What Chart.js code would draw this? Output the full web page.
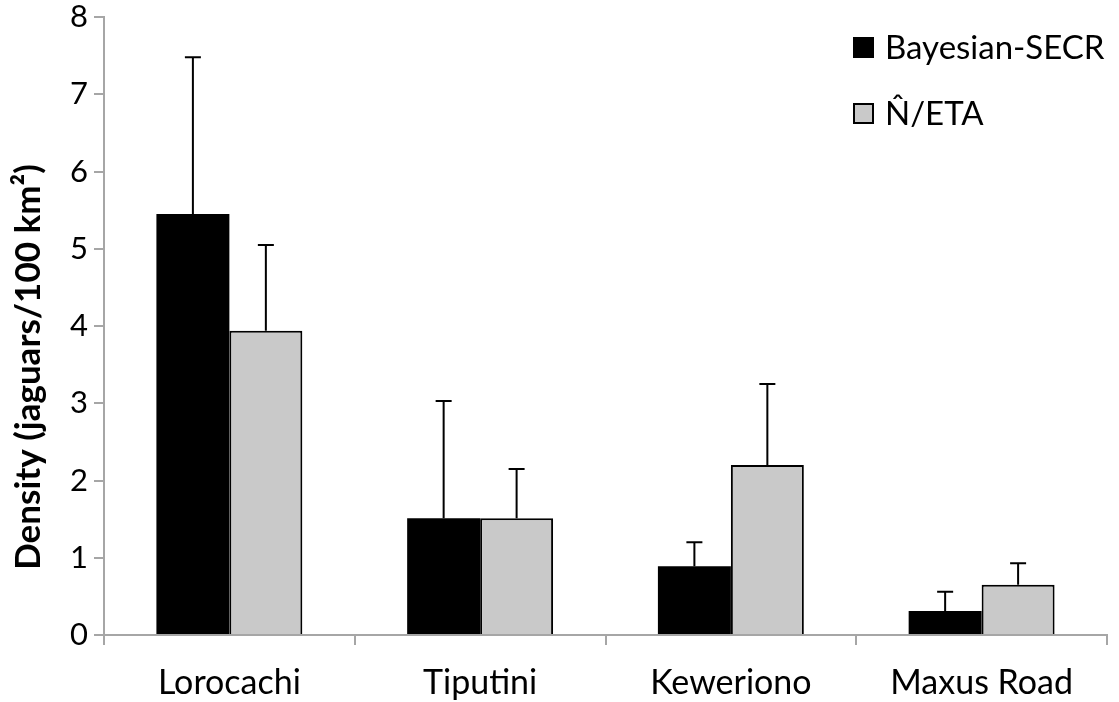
<!DOCTYPE html>
<html>
<head>
<meta charset="utf-8">
<script src="https://cdn.jsdelivr.net/npm/chart.js@4"></script>
<style>
  html, body { margin: 0; padding: 0; background: #ffffff; }
  #wrap { width: 1119px; height: 702px; }
</style>
</head>
<body>
<div id="wrap"><canvas id="density" width="1119" height="702"></canvas></div>
<script>
// Jaguar density estimates per study site
const categories = ['Lorocachi', 'Tiputini', 'Keweriono', 'Maxus Road'];
const seriesNames = ['Bayesian-SECR', 'N\u0302/ETA'];
const secrDensity = [5.45, 1.51, 0.89, 0.31];
const secrUpper   = [7.48, 3.03, 1.20, 0.56];
const etaDensity  = [3.94, 1.51, 2.20, 0.65];
const etaUpper    = [5.05, 2.15, 3.25, 0.93];
const yTickValues = [0, 1, 2, 3, 4, 5, 6, 7, 8];
const yAxisTitle = 'Density (jaguars/100 km\u00b2)';

const FONT = 'Lato, "Open Sans", "DejaVu Sans", sans-serif';
const AXIS_GREY = '#a6a6a6';
const ETA_GREY = '#c9c9c9';

// Upper error whiskers with a flat cap
const errorBars = {
  id: 'errorBars',
  afterDatasetsDraw(chart) {
    const ctx = chart.ctx;
    const y = chart.scales.y;
    chart.data.datasets.forEach((ds, i) => {
      const meta = chart.getDatasetMeta(i);
      meta.data.forEach((bar, j) => {
        const top = y.getPixelForValue(ds.upper[j]);
        ctx.save();
        ctx.strokeStyle = '#000';
        ctx.lineWidth = 2;
        ctx.beginPath();
        ctx.moveTo(bar.x, bar.y);
        ctx.lineTo(bar.x, top);
        ctx.moveTo(bar.x - 8, top);
        ctx.lineTo(bar.x + 8, top);
        ctx.stroke();
        ctx.restore();
      });
    });
  }
};

// Rotated y-axis title, sitting a little below the plot's midline
const yTitle = {
  id: 'yTitle',
  afterDraw(chart) {
    const ctx = chart.ctx;
    const area = chart.chartArea;
    ctx.save();
    ctx.translate(40, (area.top + area.bottom) / 2 + 41);
    ctx.rotate(-Math.PI / 2);
    ctx.fillStyle = '#000';
    ctx.font = 'bold 35px ' + FONT;
    ctx.textAlign = 'center';
    ctx.textBaseline = 'alphabetic';
    ctx.fillText(yAxisTitle, 0, 0);
    ctx.restore();
  }
};

// Legend inside the plot, top right
const cornerLegend = {
  id: 'cornerLegend',
  afterDraw(chart) {
    const ctx = chart.ctx;
    const area = chart.chartArea;
    const boxX = area.right - 254;
    const rows = [47, 113];
    ctx.save();
    chart.data.datasets.forEach((ds, i) => {
      const cy = rows[i];
      ctx.fillStyle = ds.backgroundColor;
      ctx.fillRect(boxX, cy - 10, 21, 21);
      ctx.strokeStyle = '#000';
      ctx.lineWidth = 2;
      ctx.strokeRect(boxX + 1, cy - 9, 19, 19);
      ctx.fillStyle = '#000';
      ctx.font = '33px ' + FONT;
      ctx.textBaseline = 'middle';
      ctx.textAlign = 'left';
      ctx.fillText(ds.label, boxX + 32, cy + 1);
    });
    ctx.restore();
  }
};

new Chart(document.getElementById('density'), {
  type: 'bar',
  data: {
    labels: categories,
    datasets: [
      {
        label: seriesNames[0],
        data: secrDensity,
        upper: secrUpper,
        backgroundColor: '#000000',
        borderColor: '#000000',
        borderWidth: 0
      },
      {
        label: seriesNames[1],
        data: etaDensity,
        upper: etaUpper,
        backgroundColor: ETA_GREY,
        borderColor: '#000000',
        borderWidth: 2
      }
    ]
  },
  options: {
    responsive: false,
    animation: false,
    events: [],
    barPercentage: 1,
    categoryPercentage: 0.582,
    layout: { padding: { left: 0, top: 17, right: 12, bottom: 0 } },
    plugins: {
      legend: { display: false },
      tooltip: { enabled: false }
    },
    scales: {
      x: {
        grid: {
          display: true,
          drawOnChartArea: false,
          offset: true,
          color: AXIS_GREY,
          lineWidth: 2,
          tickLength: 10
        },
        border: { color: AXIS_GREY, width: 2 },
        ticks: {
          color: '#000',
          font: { family: FONT, size: 34 },
          padding: 18
        },
        afterFit(scale) {
          scale.height = 67;
          scale.paddingLeft = 0;
          scale.paddingRight = 0;
        }
      },
      y: {
        min: 0,
        max: 8,
        afterBuildTicks(scale) {
          scale.ticks = yTickValues.map(v => ({ value: v }));
        },
        grid: {
          display: true,
          drawOnChartArea: false,
          color: AXIS_GREY,
          lineWidth: 2,
          tickLength: 10
        },
        border: { color: AXIS_GREY, width: 2 },
        ticks: {
          color: '#000',
          font: { family: FONT, size: 31 },
          padding: 6
        },
        afterFit(scale) {
          scale.width = 104;
          scale.paddingTop = 0;
          scale.paddingBottom = 0;
        }
      }
    }
  },
  plugins: [errorBars, yTitle, cornerLegend]
});
</script>
</body>
</html>
